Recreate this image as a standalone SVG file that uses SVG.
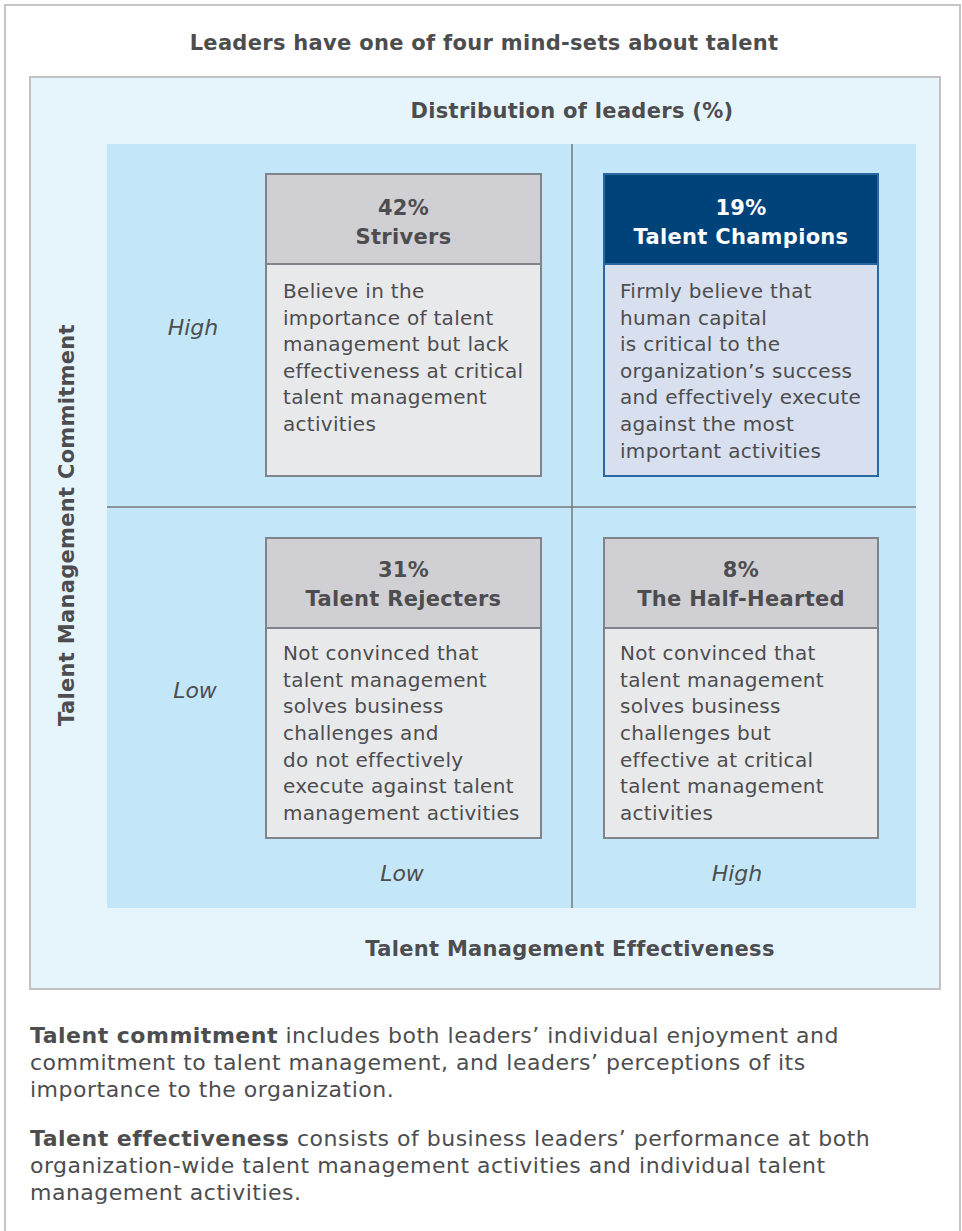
<svg xmlns="http://www.w3.org/2000/svg" width="962" height="1231" viewBox="0 0 962 1231">
<style>
text{font-family:"DejaVu Sans","Liberation Sans",sans-serif;fill:#4d4d4f}
.b{font-weight:bold}
.t{font-size:21px;font-weight:bold;letter-spacing:0.3px}
.body{font-size:20px;letter-spacing:0.3px}
.hd{font-size:21px;font-weight:bold;text-anchor:middle;letter-spacing:0.3px}
.it{font-size:22px;font-style:italic;text-anchor:middle}
.hbox{fill:#d0cfd3;stroke:#808389;stroke-width:2}
.bbox{fill:#e8e9eb;stroke:#808389;stroke-width:2}
.ft{font-size:22px;letter-spacing:0.5px}
</style>
<rect x="0" y="0" width="962" height="1231" fill="#ffffff"/>
<rect x="5" y="5" width="955" height="1240" fill="#ffffff" stroke="#c6c6c8" stroke-width="2"/>
<text x="484" y="50" class="t" text-anchor="middle">Leaders have one of four mind-sets about talent</text>
<rect x="30" y="77" width="910" height="912" fill="#e6f5fc" stroke="#c0c1c3" stroke-width="2"/>
<text x="572" y="118" class="t" text-anchor="middle">Distribution of leaders (%)</text>
<rect x="107" y="144" width="809" height="764" fill="#c3e7f8"/>
<g id="dividers" stroke="#77797d" stroke-width="1.5">
<line x1="572" y1="144" x2="572" y2="908"/>
<line x1="107" y1="507" x2="916" y2="507"/>
</g>
<text x="66" y="525" class="t" text-anchor="middle" transform="rotate(-90 66 525)" dy="7.5">Talent Management Commitment</text>
<text x="193" y="335" class="it">High</text>
<text x="195" y="698" class="it">Low</text>
<text x="402" y="881" class="it">Low</text>
<text x="737" y="881" class="it">High</text>
<text x="570" y="956" class="t" text-anchor="middle">Talent Management Effectiveness</text>
<g id="strivers">
<rect x="266" y="174" width="275" height="90" class="hbox"/>
<rect x="266" y="264" width="275" height="212" class="bbox"/>
<text x="403.5" y="215" class="hd">42%</text>
<text x="403.5" y="244" class="hd">Strivers</text>
<text x="283" y="298" class="body">Believe in the</text>
<text x="283" y="325" class="body">importance of talent</text>
<text x="283" y="351" class="body">management but lack</text>
<text x="283" y="378" class="body">effectiveness at critical</text>
<text x="283" y="404" class="body">talent management</text>
<text x="283" y="431" class="body">activities</text>
</g>
<g id="champions">
<rect x="604" y="174" width="274" height="90" fill="#00427a" stroke="#2a66a0" stroke-width="2"/>
<rect x="604" y="264" width="274" height="212" fill="#d8dfee" stroke="#2a66a0" stroke-width="2"/>
<text x="741" y="215" class="hd" style="fill:#ffffff">19%</text>
<text x="741" y="244" class="hd" style="fill:#ffffff">Talent Champions</text>
<text x="620" y="298" class="body">Firmly believe that</text>
<text x="620" y="325" class="body">human capital</text>
<text x="620" y="351" class="body">is critical to the</text>
<text x="620" y="378" class="body">organization’s success</text>
<text x="620" y="404" class="body">and effectively execute</text>
<text x="620" y="431" class="body">against the most</text>
<text x="620" y="458" class="body">important activities</text>
</g>
<g id="rejecters">
<rect x="266" y="538" width="275" height="90" class="hbox"/>
<rect x="266" y="628" width="275" height="210" class="bbox"/>
<text x="403.5" y="577" class="hd">31%</text>
<text x="403.5" y="606" class="hd">Talent Rejecters</text>
<text x="283" y="660" class="body">Not convinced that</text>
<text x="283" y="687" class="body">talent management</text>
<text x="283" y="713" class="body">solves business</text>
<text x="283" y="740" class="body">challenges and</text>
<text x="283" y="767" class="body">do not effectively</text>
<text x="283" y="793" class="body">execute against talent</text>
<text x="283" y="820" class="body">management activities</text>
</g>
<g id="halfhearted">
<rect x="604" y="538" width="274" height="90" class="hbox"/>
<rect x="604" y="628" width="274" height="210" class="bbox"/>
<text x="741" y="577" class="hd">8%</text>
<text x="741" y="606" class="hd">The Half-Hearted</text>
<text x="620" y="660" class="body">Not convinced that</text>
<text x="620" y="687" class="body">talent management</text>
<text x="620" y="713" class="body">solves business</text>
<text x="620" y="740" class="body">challenges but</text>
<text x="620" y="767" class="body">effective at critical</text>
<text x="620" y="793" class="body">talent management</text>
<text x="620" y="820" class="body">activities</text>
</g>
<g id="notes">
<text x="30" y="1043" class="ft"><tspan class="b">Talent commitment</tspan> includes both leaders’ individual enjoyment and</text>
<text x="30" y="1070" class="ft">commitment to talent management, and leaders’ perceptions of its</text>
<text x="30" y="1097" class="ft">importance to the organization.</text>
<text x="30" y="1146" class="ft"><tspan class="b">Talent effectiveness</tspan> consists of business leaders’ performance at both</text>
<text x="30" y="1173" class="ft">organization-wide talent management activities and individual talent</text>
<text x="30" y="1200" class="ft">management activities.</text>
</g>
</svg>
